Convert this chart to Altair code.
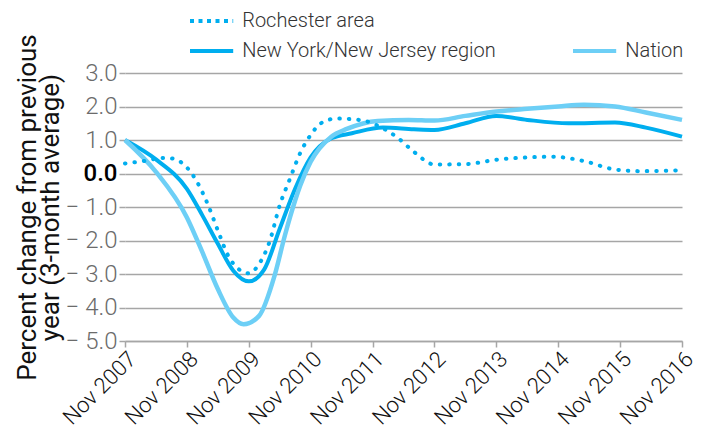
import altair as alt
import pandas as pd

# Months after Nov 2007
roch_months = [0, 4, 7, 9, 12, 14, 16, 18, 20, 22, 24, 26, 28, 30, 32, 34, 36, 38, 41, 44, 47, 50, 53, 56, 60, 66, 72, 78, 83, 89, 95, 100, 108]
roch_values = [0.3, 0.38, 0.46, 0.45, 0.18, -0.26, -0.9, -1.7, -2.45, -2.85, -2.98, -2.7, -2.05, -0.95, -0.15, 0.62, 1.15, 1.5, 1.64, 1.62, 1.55, 1.35, 1.05, 0.65, 0.27, 0.28, 0.41, 0.48, 0.5, 0.37, 0.12, 0.07, 0.1]

nynj_months = [0, 6, 12, 15, 18, 21, 24, 27, 30, 33, 36, 40, 44, 50, 56, 60, 66, 72, 78, 86, 95, 101, 108]
nynj_values = [1.0, 0.42, -0.46, -1.25, -2.1, -2.9, -3.22, -2.86, -1.65, -0.45, 0.48, 1.05, 1.2, 1.37, 1.32, 1.3, 1.5, 1.72, 1.6, 1.5, 1.52, 1.37, 1.1]

nation_months = [0, 6, 12, 15, 18, 21, 23, 26, 29, 31, 33, 34, 36, 40, 43, 49, 55, 60, 66, 72, 78, 84, 89, 95, 101, 108]
nation_values = [1.0, 0.05, -1.31, -2.35, -3.45, -4.3, -4.5, -4.25, -3.05, -1.85, -0.8, -0.35, 0.35, 1.1, 1.33, 1.57, 1.6, 1.58, 1.72, 1.85, 1.93, 2.0, 2.05, 2.0, 1.82, 1.6]

tick_months = [0, 12, 24, 36, 48, 60, 72, 84, 96, 108]
tick_labels = ["Nov 2007", "Nov 2008", "Nov 2009", "Nov 2010", "Nov 2011",
               "Nov 2012", "Nov 2013", "Nov 2014", "Nov 2015", "Nov 2016"]
y_ticks = [-5, -4, -3, -2, -1, 0, 1, 2, 3]

series_names = ["Rochester area", "New York/New Jersey region", "Nation"]
DARK = "#00AEEF"
LIGHT = "#6DCFF6"
FONT = "Roboto"

df_roch = pd.DataFrame({"month": roch_months, "value": roch_values, "series": series_names[0]})
df_nynj = pd.DataFrame({"month": nynj_months, "value": nynj_values, "series": series_names[1]})
df_nation = pd.DataFrame({"month": nation_months, "value": nation_values, "series": series_names[2]})

label_map = "{" + ",".join(f"'{m}':'{l}'" for m, l in zip(tick_months, tick_labels)) + "}"

x_enc = alt.X(
    "month:Q",
    scale=alt.Scale(domain=[0, 108], nice=False),
    axis=alt.Axis(
        values=tick_months,
        labelExpr=f"{label_map}[''+datum.value]",
        labelOverlap=False,
        title=None,
        grid=False,
        labelAngle=-45,
        labelFontSize=22,
        labelColor="#111111",
        labelFont=FONT,
        labelFontWeight=300,
        domainColor="#a6a6a6",
        domainWidth=1.5,
        tickColor="#a6a6a6",
        tickWidth=1.5,
        tickSize=6,
        labelPadding=1,
    ),
)

y_enc = alt.Y(
    "value:Q",
    scale=alt.Scale(domain=[-5, 3], nice=False, zero=False),
    axis=alt.Axis(
        values=y_ticks,
        labelExpr="datum.value < 0 ? '\u2212 ' + format(-datum.value, '.1f') : format(datum.value, '.1f')",
        title=["Percent change from previous", "year (3-month average)"],
        titleFontSize=26,
        titleFont=FONT,
        titleFontWeight=400,
        titleColor="#111111",
        titleLineHeight=23,
        titlePadding=2,
        labelFontSize=24,
        labelFont=FONT,
        labelColor=alt.condition("datum.value == 0", alt.value("#000000"), alt.value("#6b6b6b")),
        labelFontWeight=alt.condition("datum.value == 0", alt.value(500), alt.value(300)),
        labelPadding=2,
        grid=True,
        gridColor="#a6a6a6",
        gridWidth=1.5,
        domain=False,
        tickColor="#a6a6a6",
        tickWidth=1.5,
        tickSize=6,
    ),
)

legend_common = dict(
    title=None,
    orient="none",
    symbolType="M-2.4,0H2.4",
    symbolSize=324,
    symbolStrokeWidth=4,
    labelFontSize=20,
    labelFont=FONT,
    labelFontWeight=300,
    labelColor="#333333",
    labelOffset=19.6,
    labelLimit=400,
)

nynj = alt.Chart(df_nynj).mark_line(interpolate="monotone", strokeWidth=4).encode(
    x=x_enc, y=y_enc,
    color=alt.Color(
        "series:N",
        scale=alt.Scale(domain=series_names[1:], range=[DARK, LIGHT]),
        legend=alt.Legend(direction="horizontal", legendX=75.6, legendY=-33, columnPadding=68, **legend_common),
    ),
)
nation = alt.Chart(df_nation).mark_line(interpolate="monotone", strokeWidth=4.5).encode(
    x=x_enc, y=y_enc,
    color=alt.Color("series:N"),
)
roch = alt.Chart(df_roch).mark_line(
    interpolate="monotone", strokeWidth=4, strokeDash=[0.5, 9], strokeCap="round"
).encode(
    x=x_enc, y=y_enc,
    color=alt.Color(
        "series:N",
        scale=alt.Scale(domain=series_names[:1], range=[DARK]),
        legend=alt.Legend(legendX=75.6, legendY=-63, symbolDash=[4, 4.5], **legend_common),
    ),
)

solid = alt.layer(nynj, nation)
chart = alt.layer(solid, roch).resolve_scale(color="independent").properties(
    width=557,
    height=268,
    autosize=alt.AutoSizeParams(type="none"),
    padding={"left": 117, "top": 65, "right": 14, "bottom": 94},
).configure_view(stroke=None)

chart.save("out.html", embed_options={"renderer": "svg", "actions": False})
